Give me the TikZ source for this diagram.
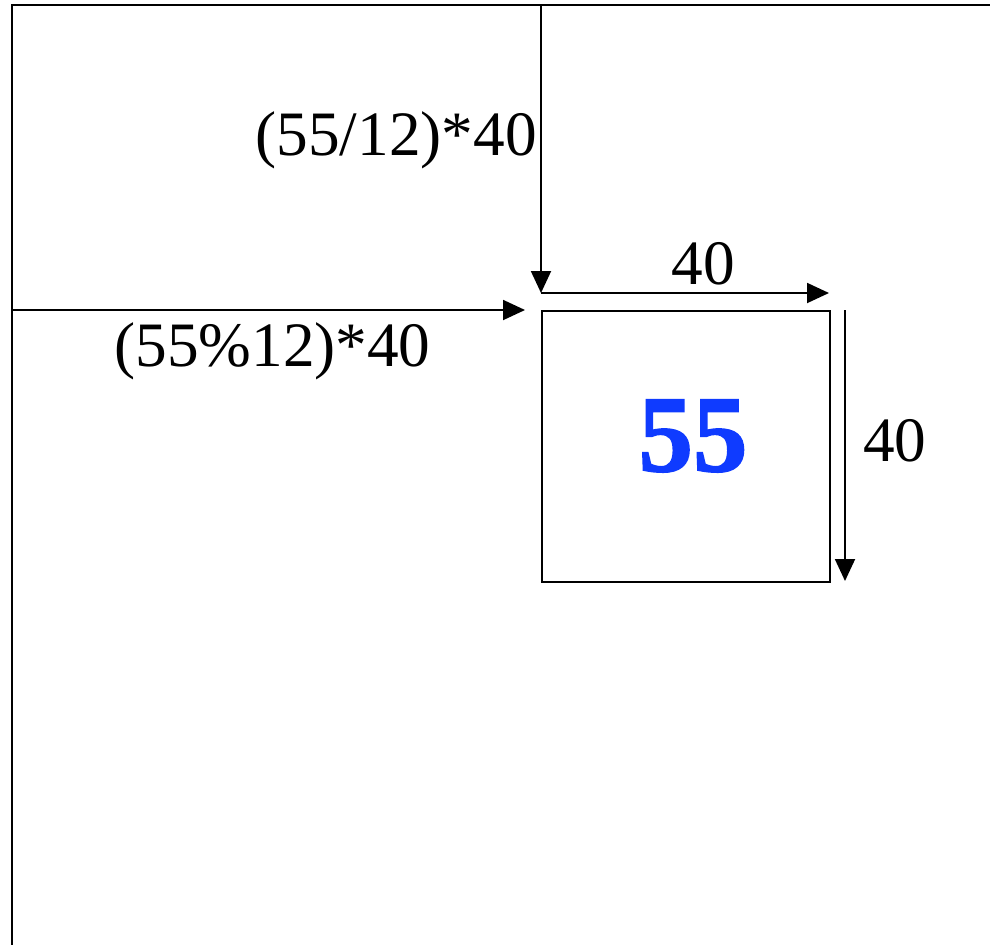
\documentclass[tikz,border=0pt]{standalone}
\usepackage{fontspec}
\setmainfont{Liberation Serif}
\newfontfamily\cellfont[FakeBold=1.5]{Liberation Serif Bold}
\usepackage{xcolor}
\definecolor{cellBlue}{HTML}{0F3BFF}
\usetikzlibrary{arrows.meta, positioning, calc}
\tikzset{
    frameline/.style={
        line width=1.1pt,
        draw=black
    },
    dimarrow/.style={
        -{Triangle[length=0.44cm, width=0.4cm]},
        line width=1.1pt
    }
}

\begin{document}
\begin{tikzpicture}[
    every node/.style={font=\fontsize{36}{40}\selectfont, inner sep=0pt},
    cell/.style={rectangle, draw, line width=1.1pt, minimum width=5.76cm, minimum height=5.42cm},
    cellnum/.style={text=cellBlue, font=\cellfont\fontsize{62}{66}\selectfont},
]
\useasboundingbox (0,0) rectangle (19.8,-18.9);

% ====== GRID FRAME ======
\coordinate (corner) at (0.24,-0.1);
\coordinate (frame_right) at (19.8,-0.1);
\coordinate (frame_bottom) at (0.24,-18.9);
\draw[frameline] (frame_right) -- (corner) -- (frame_bottom);

% ====== CELL 55 ======
\node[cell, anchor=north west] (cell55) at (10.82,-6.2) {};
\node[cellnum] (cell_label) at (13.86,-8.72) {55};

% --- offsets ---
\coordinate (row_start) at (10.82,-0.1);
\coordinate (row_end) at (10.82,-5.86);
\coordinate (col_start) at (0.24,-6.2);
\coordinate (col_end) at (10.5,-6.2);
\coordinate (width_end) at (16.58,-5.86);
\coordinate (height_start) at (16.9,-6.2);
\coordinate (height_end) at (16.9,-11.62);

\draw[dimarrow] (row_start) -- (row_end);
\draw[dimarrow] (col_start) -- (col_end);
\draw[dimarrow] (row_end) -- (width_end);
\draw[dimarrow] (height_start) -- (height_end);

% --- labels ---
\node[anchor=east] (label_row) at (10.74,-2.8) {(55/12)*40};
\node (label_col) at (5.45,-7.02) {(55\%12)*40};
\node (label_width) at (14.06,-5.28) {40};
\node[anchor=west] (label_height) at (17.26,-8.82) {40};

\end{tikzpicture}
\end{document}
